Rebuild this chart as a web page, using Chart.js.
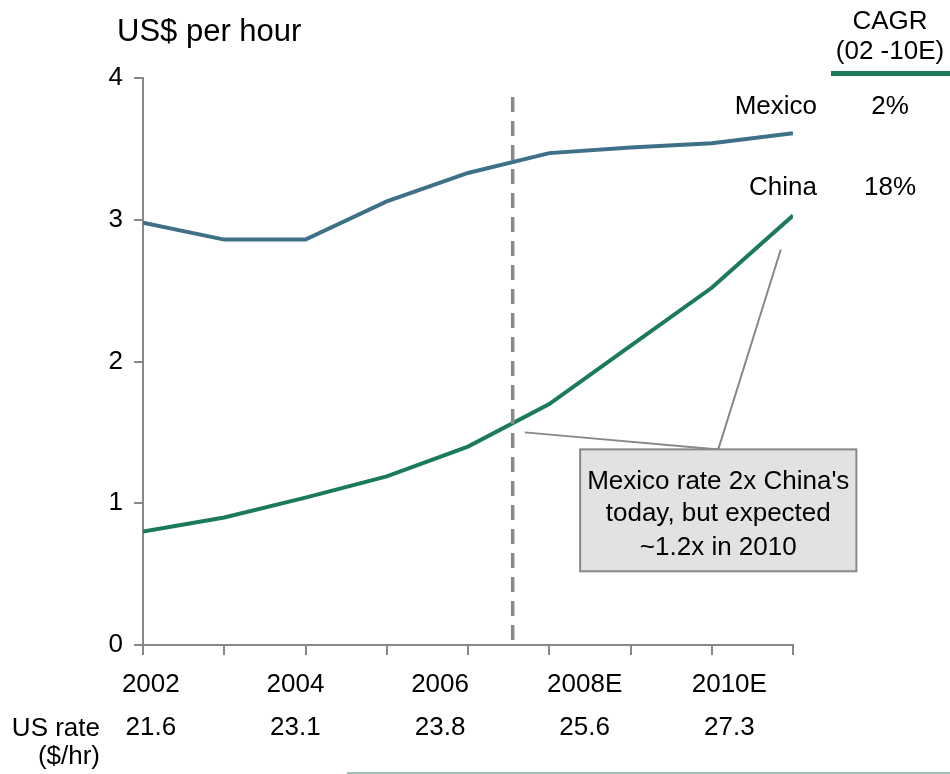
<!DOCTYPE html>
<html>
<head>
<meta charset="utf-8">
<script src="https://cdn.jsdelivr.net/npm/chart.js@4/dist/chart.umd.min.js"></script>
<style>
  html, body { margin: 0; padding: 0; background: #fff; }
  #wrap { width: 950px; height: 774px; position: relative; }
</style>
</head>
<body>
<div id="wrap"><canvas id="wages"></canvas></div>
<script>
// data
var years = [2002, 2003, 2004, 2005, 2006, 2007, 2008, 2009, 2010];
var mexico = [2.98, 2.86, 2.86, 3.13, 3.33, 3.47, 3.51, 3.54, 3.61];
var china = [0.80, 0.90, 1.04, 1.19, 1.40, 1.70, 2.11, 2.52, 3.03];
var yearLabels = ["2002", "2004", "2006", "2008E", "2010E"];
var usRates = ["21.6", "23.1", "23.8", "25.6", "27.3"];
var cagrNames = ["Mexico", "China"];
var cagrValues = ["2%", "18%"];
var todayMark = 2006.55;

var FONT = "'Liberation Sans', Arial, sans-serif";
var GREY = "#888888";
var MEX_COLOR = "#3e7088";
var CHN_COLOR = "#1c7b57";

function pts(values) {
    return years.map(function (y, i) { return { x: y, y: values[i] }; });
}

// everything that is not a plotted series
var extras = {
    id: "extras",
    afterDraw: function (chart) {
        var ctx = chart.ctx;
        var xs = chart.scales.x, ys = chart.scales.y;
        var area = chart.chartArea;
        ctx.save();

        // dashed "today" line
        ctx.strokeStyle = GREY;
        ctx.lineWidth = 3.5;
        ctx.setLineDash([15, 9]);
        ctx.beginPath();
        ctx.moveTo(xs.getPixelForValue(todayMark), ys.getPixelForValue(3.866));
        ctx.lineTo(xs.getPixelForValue(todayMark), area.bottom);
        ctx.stroke();
        ctx.setLineDash([]);

        // callout leader lines
        var anchorX = xs.getPixelForValue(2009.08), anchorY = ys.getPixelForValue(1.38);
        ctx.lineWidth = 2;
        ctx.beginPath();
        ctx.moveTo(xs.getPixelForValue(2009.85), ys.getPixelForValue(2.79));
        ctx.lineTo(anchorX, anchorY);
        ctx.moveTo(xs.getPixelForValue(2006.70), ys.getPixelForValue(1.50));
        ctx.lineTo(anchorX, anchorY);
        ctx.stroke();

        // callout box
        var bx1 = xs.getPixelForValue(2007.38), bx2 = xs.getPixelForValue(2010.78);
        var by1 = anchorY, by2 = ys.getPixelForValue(0.52);
        ctx.fillStyle = "#e2e2e2";
        ctx.fillRect(bx1, by1, bx2 - bx1, by2 - by1);
        ctx.strokeRect(bx1, by1, bx2 - bx1, by2 - by1);
        ctx.fillStyle = "#000";
        ctx.font = "26px " + FONT;
        ctx.textAlign = "center";
        ctx.textBaseline = "middle";
        var cx = (bx1 + bx2) / 2;
        ctx.fillText("Mexico rate 2x China's", cx, by1 + 32);
        ctx.fillText("today, but expected", cx, by1 + 64);
        ctx.fillText("~1.2x in 2010", cx, by1 + 98);

        // year labels and US rate row
        var w = area.right - area.left;
        yearLabels.forEach(function (lab, i) {
            var x = area.left + w * (0.012 + 0.2225 * i);
            ctx.fillText(lab, x, 685);
            ctx.fillText(usRates[i], x, 728);
        });
        ctx.textAlign = "right";
        ctx.fillText("US rate", 100, 729);
        ctx.fillText("($/hr)", 100, 757);

        // unit title
        ctx.textAlign = "left";
        ctx.font = "31px " + FONT;
        ctx.fillText("US$ per hour", 117, 32);

        // CAGR block
        ctx.font = "26px " + FONT;
        ctx.textAlign = "center";
        ctx.fillText("CAGR", 890, 22);
        ctx.fillText("(02 -10E)", 890, 52);
        ctx.fillStyle = CHN_COLOR;
        ctx.fillRect(831, 71, 119, 5);
        ctx.fillStyle = "#000";
        var rowY = [107, 188];
        cagrNames.forEach(function (name, i) {
            ctx.textAlign = "right";
            ctx.fillText(name, 817, rowY[i]);
            ctx.textAlign = "center";
            ctx.fillText(cagrValues[i], 890, rowY[i]);
        });

        // thin rule at the bottom
        ctx.strokeStyle = "#9fc3b5";
        ctx.lineWidth = 2;
        ctx.beginPath();
        ctx.moveTo(347, 773);
        ctx.lineTo(950, 773);
        ctx.stroke();

        ctx.restore();
    }
};

var canvasElement = document.getElementById("wages");
var config = {
    type: "line",
    data: {
        datasets: [{
                label: "Mexico",
                data: pts(mexico),
                borderColor: MEX_COLOR,
                borderWidth: 4,
                pointRadius: 0,
                tension: 0
            },
            {
                label: "China",
                data: pts(china),
                borderColor: CHN_COLOR,
                borderWidth: 4,
                pointRadius: 0,
                tension: 0
            }
        ]
    },
    options: {
        responsive: true,
        maintainAspectRatio: false,
        animation: false,
        layout: {
            padding: { left: 0, right: 157, top: 78, bottom: 0 }
        },
        plugins: {
            legend: { display: false },
            tooltip: { enabled: false }
        },
        scales: {
            x: {
                type: "linear",
                min: 2002,
                max: 2010,
                afterFit: function (scale) { scale.height = 129; },
                border: { color: GREY, width: 2 },
                grid: {
                    drawOnChartArea: false,
                    color: GREY,
                    lineWidth: 2,
                    tickLength: 10
                },
                ticks: {
                    display: false,
                    stepSize: 1
                }
            },
            y: {
                min: 0,
                max: 4,
                afterFit: function (scale) { scale.width = 143; },
                border: { color: GREY, width: 2 },
                grid: {
                    drawOnChartArea: false,
                    color: GREY,
                    lineWidth: 2,
                    tickLength: 9
                },
                ticks: {
                    stepSize: 1,
                    color: "#000",
                    padding: 11,
                    font: { size: 26, family: FONT }
                }
            }
        }
    },
    plugins: [extras]
};
var wagesChart = new Chart(canvasElement, config);
</script>
</body>
</html>
